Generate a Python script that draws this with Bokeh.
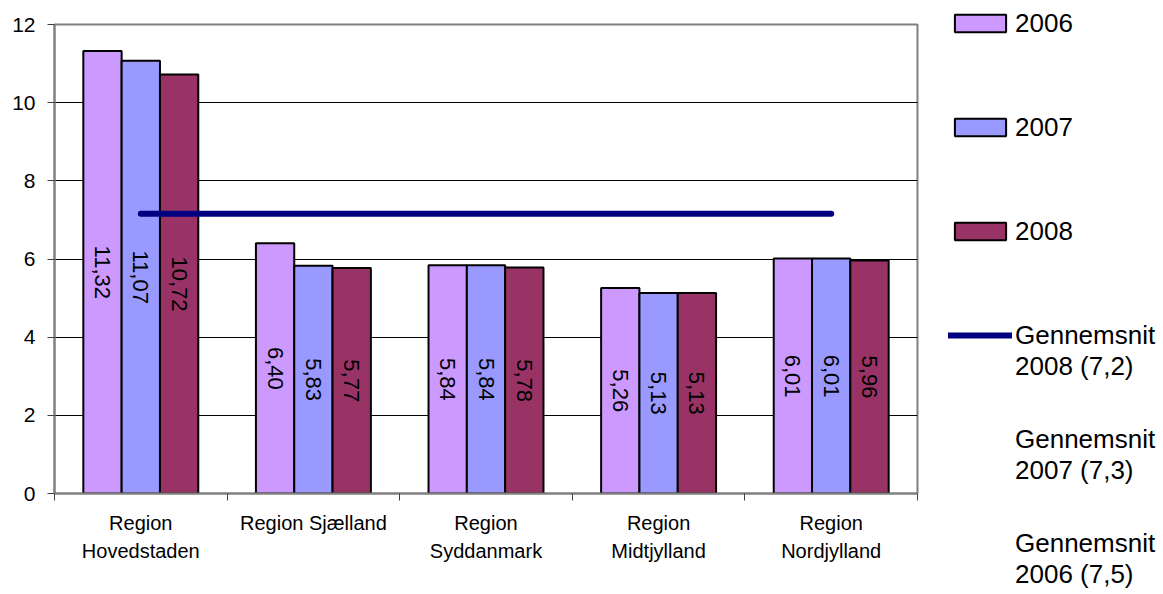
import math
from bokeh.plotting import figure
from bokeh.models import (ColumnDataSource, Range1d, FixedTicker, Legend, LegendItem)
from bokeh.embed import file_html
from bokeh.resources import INLINE
from bokeh.core.properties import value

# ---- data ----
regions = ["Region\nHovedstaden", "Region Sjælland", "Region\nSyddanmark",
           "Region\nMidtjylland", "Region\nNordjylland"]
years = ["2006", "2007", "2008"]
v2006 = [11.32, 6.40, 5.84, 5.26, 6.01]
v2007 = [11.07, 5.83, 5.84, 5.13, 6.01]
v2008 = [10.72, 5.77, 5.78, 5.13, 5.96]
avg2008 = [7.16, 7.16, 7.16, 7.16, 7.16]
avg2007 = [7.3, 7.3, 7.3, 7.3, 7.3]
avg2006 = [7.5, 7.5, 7.5, 7.5, 7.5]
avg_labels = ["Gennemsnit\n2008 (7,2)", "Gennemsnit\n2007 (7,3)", "Gennemsnit\n2006 (7,5)"]
y_ticks = [0, 2, 4, 6, 8, 10, 12]

colors = ["#CC99FF", "#9999FF", "#993366"]
FONT = "Liberation Sans"

n = len(regions)
centers = [i + 0.5 for i in range(n)]
bar_w = 0.222
offsets = [-bar_w, 0.0, bar_w]

p = figure(frame_width=863, frame_height=469,
           x_range=Range1d(0, n), y_range=Range1d(y_ticks[0], y_ticks[-1]),
           output_backend="svg", toolbar_location=None,
           min_border_left=54, min_border_right=246,
           min_border_top=24, min_border_bottom=101)

p.outline_line_color = "#808080"
p.outline_line_width = 2
p.background_fill_color = "white"

bar_renderers = []
for yr, vals, col, off in zip(years, [v2006, v2007, v2008], colors, offsets):
    src = ColumnDataSource(dict(
        x=[c + off for c in centers],
        top=vals,
        ymid=[v / 2 for v in vals],
        lbl=[f"{v:.2f}".replace(".", ",") for v in vals],
    ))
    r = p.vbar(x="x", top="top", bottom=0, width=bar_w, source=src,
               fill_color=col, line_color="black", line_width=2)
    bar_renderers.append(r)
    p.text(x="x", y="ymid", text="lbl", source=src, angle=-math.pi / 2,
           text_align="center", text_baseline="middle",
           text_font=value(FONT), text_font_size="22px", text_color="black")

avg_r = p.line(centers, avg2008, line_width=6, line_color="#000080", line_cap="round")
h7 = p.line(centers, avg2007, line_width=6, line_color="#000080", line_alpha=0)
h6 = p.line(centers, avg2006, line_width=6, line_color="#000080", line_alpha=0)

# axes
p.yaxis.ticker = FixedTicker(ticks=y_ticks)
p.yaxis.major_tick_out = 7
p.yaxis.major_tick_in = 0
p.yaxis.minor_tick_out = 0
p.yaxis.minor_tick_in = 0
p.yaxis.axis_line_color = "#808080"
p.yaxis.axis_line_width = 2
p.yaxis.major_tick_line_color = "#404040"
p.yaxis.major_label_standoff = 12
p.yaxis.major_label_text_font = FONT
p.yaxis.major_label_text_font_size = "21px"
p.yaxis.major_label_text_color = "black"

p.xaxis.ticker = FixedTicker(ticks=centers, minor_ticks=list(range(n + 1)))
p.xaxis.major_label_overrides = {c: lab for c, lab in zip(centers, regions)}
p.xaxis.major_tick_out = 0
p.xaxis.major_tick_in = 0
p.xaxis.minor_tick_out = 7
p.xaxis.minor_tick_in = 0
p.xaxis.minor_tick_line_color = "#404040"
p.xaxis.axis_line_color = "#808080"
p.xaxis.axis_line_width = 2
p.xaxis.major_label_standoff = 11
p.xaxis.major_label_text_font = FONT
p.xaxis.major_label_text_font_size = "20px"
p.xaxis.major_label_text_line_height = 1.3
p.xaxis.major_label_text_color = "black"

p.xgrid.visible = False
p.ygrid.ticker = FixedTicker(ticks=y_ticks[1:-1])
p.ygrid.grid_line_color = "black"
p.ygrid.grid_line_width = 1

# legend (leading newline keeps the glyph level with the first text line)
items = [LegendItem(label=yr, renderers=[r]) for yr, r in zip(years, bar_renderers)]
items += [LegendItem(label="\n" + avg_labels[0], renderers=[avg_r]),
          LegendItem(label="\n" + avg_labels[1], renderers=[h7]),
          LegendItem(label="\n" + avg_labels[2], renderers=[h6])]
leg = Legend(items=items, location=(31, -99), orientation="vertical")
leg.glyph_width = 64
leg.glyph_height = 22
leg.label_height = 98
leg.spacing = 6
leg.padding = 0
leg.margin = 0
leg.label_standoff = 3
leg.border_line_alpha = 0
leg.background_fill_alpha = 0
leg.label_text_font = FONT
leg.label_text_font_size = "26px"
leg.label_text_line_height = 1.25
leg.label_text_color = "black"
p.add_layout(leg, "right")

open("out.html", "w").write(file_html(p, INLINE))
